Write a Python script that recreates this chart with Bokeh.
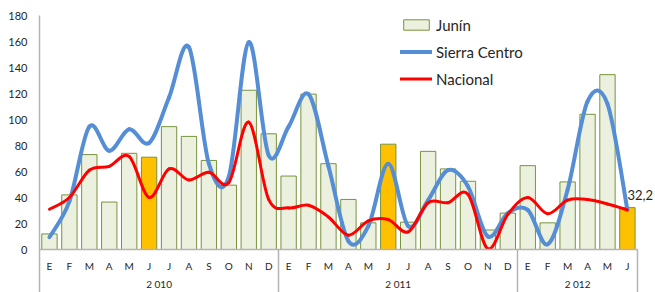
from bokeh.plotting import figure
from bokeh.models import (Range1d, FixedTicker, LinearAxis, Legend, LegendItem,
                          Label, ColumnDataSource)
from bokeh.embed import file_html
from bokeh.resources import INLINE

# ---------------- data ----------------
years = ["2 010", "2 011", "2 012"]
months_per_year = [12, 12, 6]
month_names = ["Ene", "Feb", "Mar", "Abr", "May", "Jun",
               "Jul", "Ago", "Set", "Oct", "Nov", "Dic"]
month_labels = ["E", "F", "M", "A", "M", "J", "J", "A", "S", "O", "N", "D"]
highlight_month = "Jun"

junin = [12, 42, 73, 36.5, 74, 71, 94.5, 87, 68.5, 49.5, 122.5, 89,
         56.5, 119.5, 66, 38.5, 20.5, 81, 21, 75.5, 62, 52.5, 15, 28,
         64.5, 20.5, 52, 104, 134.5, 32.2]
sierra_centro = [9.5, 37, 94.5, 76, 92.5, 82, 117, 155.5, 66, 56, 159.5, 72.5,
                 94.5, 119.5, 64, 6.5, 18, 66, 18, 38, 61, 48.5, 10, 28,
                 30.5, 4, 46, 114, 112, 30.5]
nacional = [31, 40, 61, 64, 71.5, 40, 62, 53.5, 59.5, 51.5, 98, 38.5,
            32, 34, 25, 11, 22, 23, 13.5, 36, 36, 42.5, 0.5, 27,
            40, 27.5, 38, 38.5, 35, 30.5]
y_ticks = [0, 20, 40, 60, 80, 100, 120, 140, 160, 180]

# ---------------- styles ----------------
FONT = "Lato"
BAR_FILL = "#EBF1DE"
BAR_LINE = "#77933C"
HIGHLIGHT = "#FFC000"
BLUE = "#558ED5"
RED = "#FF0000"
AXIS_GRAY = "#B4B4B4"
TEXT = "#262626"

# ---------------- derived positions ----------------
cat_month = []
for yi, n in enumerate(months_per_year):
    for m in range(n):
        cat_month.append(m)
n_cat = len(cat_month)
xs = [i + 0.5 for i in range(n_cat)]
colors = [HIGHLIGHT if month_names[m] == highlight_month else BAR_FILL for m in cat_month]

boundaries = [0]
for n in months_per_year:
    boundaries.append(boundaries[-1] + n)
year_centers = [(boundaries[i] + boundaries[i + 1]) / 2 for i in range(len(years))]


def bezier_source(x, y):
    n = len(x)
    d = dict(x0=[], y0=[], x1=[], y1=[], cx0=[], cy0=[], cx1=[], cy1=[])
    for i in range(n - 1):
        a = max(i - 1, 0)
        b = min(i + 2, n - 1)
        d["x0"].append(x[i]); d["y0"].append(y[i])
        d["x1"].append(x[i + 1]); d["y1"].append(y[i + 1])
        d["cx0"].append(x[i] + (x[i + 1] - x[a]) / 6)
        d["cy0"].append(y[i] + (y[i + 1] - y[a]) / 6)
        d["cx1"].append(x[i + 1] - (x[b] - x[i]) / 6)
        d["cy1"].append(y[i + 1] - (y[b] - y[i]) / 6)
    return ColumnDataSource(d)


p = figure(width=655, height=292,
           x_range=Range1d(0, n_cat + 0.91), y_range=Range1d(y_ticks[0], y_ticks[-1]),
           output_backend="svg", toolbar_location=None,
           min_border_left=39, min_border_right=0, min_border_top=15,
           min_border_bottom=42)
p.xgrid.visible = False
p.ygrid.visible = False
p.outline_line_color = None
p.background_fill_color = "white"
p.border_fill_color = "white"

src = ColumnDataSource(dict(x=xs, junin=junin, color=colors))
bars = p.vbar(x="x", top="junin", width=0.77, source=src,
              fill_color="color", line_color=BAR_LINE, line_width=1)

blue = p.bezier(x0="x0", y0="y0", x1="x1", y1="y1", cx0="cx0", cy0="cy0",
                cx1="cx1", cy1="cy1", source=bezier_source(xs, sierra_centro),
                line_color=BLUE, line_width=4, line_cap="round")
red = p.bezier(x0="x0", y0="y0", x1="x1", y1="y1", cx0="cx0", cy0="cy0",
               cx1="cx1", cy1="cy1", source=bezier_source(xs, nacional),
               line_color=RED, line_width=3, line_cap="round")

# y axis
ya = p.yaxis[0]
ya.ticker = FixedTicker(ticks=y_ticks)
ya.axis_line_color = AXIS_GRAY
ya.axis_line_width = 1.5
ya.major_tick_out = 0
ya.major_tick_in = 0
ya.minor_tick_line_color = None
ya.major_label_standoff = 12
ya.major_label_text_font = FONT
ya.major_label_text_font_size = "11px"
ya.major_label_text_color = TEXT

# month axis
xa = p.xaxis[0]
xa.bounds = (0, n_cat)
xa.ticker = FixedTicker(ticks=xs)
xa.major_label_overrides = {x: month_labels[m] for x, m in zip(xs, cat_month)}
xa.axis_line_color = AXIS_GRAY
xa.axis_line_width = 1.5
xa.major_tick_out = 0
xa.major_tick_in = 0
xa.minor_tick_line_color = None
xa.major_label_standoff = 10
xa.major_label_text_font = FONT
xa.major_label_text_font_size = "10px"
xa.major_label_text_color = TEXT

# year axis (its minor ticks draw the group separators)
yr = LinearAxis(ticker=FixedTicker(ticks=year_centers, minor_ticks=boundaries),
                major_label_overrides={c: y for c, y in zip(year_centers, years)})
yr.bounds = (0, n_cat)
yr.axis_line_color = None
yr.major_tick_line_color = None
yr.major_tick_out = 0
yr.major_tick_in = 0
yr.minor_tick_line_color = AXIS_GRAY
yr.minor_tick_line_width = 1.5
yr.minor_tick_in = 25
yr.minor_tick_out = 18
yr.major_label_standoff = -15
yr.major_label_text_font = FONT
yr.major_label_text_font_size = "10px"
yr.major_label_text_color = TEXT
p.add_layout(yr, "below")

legend = Legend(items=[LegendItem(label="Junín", renderers=[bars], index=0),
                       LegendItem(label="Sierra Centro", renderers=[blue]),
                       LegendItem(label="Nacional", renderers=[red])],
                location=(361, 161), orientation="vertical",
                glyph_width=32, glyph_height=13, label_height=19, spacing=8,
                label_standoff=4, padding=0, margin=0,
                border_line_color=None, background_fill_alpha=0,
                label_text_font=FONT, label_text_font_size="15px",
                label_text_color=TEXT)
p.add_layout(legend, "center")

last_label = Label(x=xs[-1], y=junin[-1], text=f"{junin[-1]:.1f}".replace(".", ","),
                   x_offset=0, y_offset=13, text_align="left", text_baseline="middle",
                   text_font=FONT, text_font_size="13px", text_color=TEXT)
p.add_layout(last_label)

open("out.html", "w").write(file_html(p, INLINE))
